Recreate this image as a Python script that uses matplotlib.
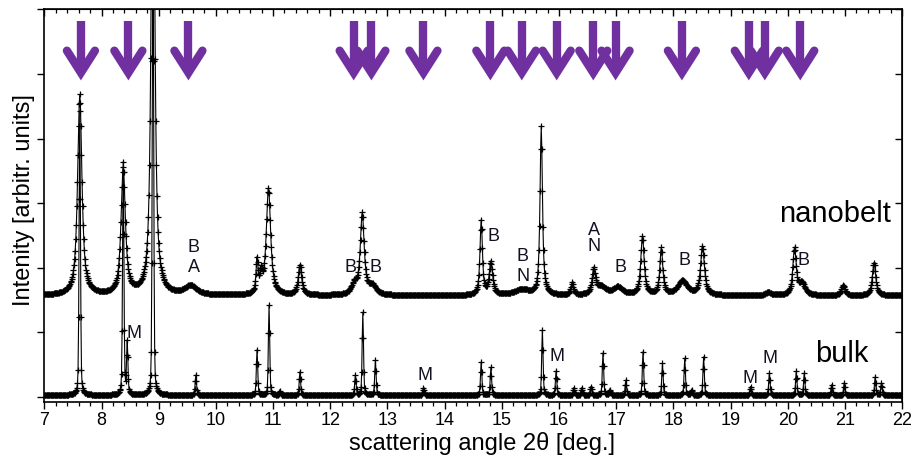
import numpy as np
import matplotlib
matplotlib.use("Agg")
import matplotlib.pyplot as plt
from matplotlib.ticker import MultipleLocator, NullFormatter

plt.rcParams['font.family'] = ['Liberation Sans', 'DejaVu Sans']

# scan grid (deg 2theta)
two_theta = np.round(np.arange(7.0, 22.0 + 1e-9, 0.01), 2)

# nanobelt pattern: vertical offset and fitted reflections
nanobelt_offset = 1.57
nanobelt_pos = [7.62, 8.38, 8.90, 9.56, 10.72, 10.79, 10.92, 11.47, 12.42, 12.56,
                12.74, 14.64, 14.81, 15.35, 15.69, 16.23, 16.61, 16.74, 17.03, 17.46,
                17.79, 18.16, 18.51, 19.66, 20.12, 20.25, 20.97, 21.51]
nanobelt_amp = [3.1, 1.95, 8.5, 0.14, 0.5, 0.28, 1.65, 0.46, 0.16, 1.25,
                0.13, 1.15, 0.5, 0.09, 2.6, 0.19, 0.38, 0.12, 0.12, 0.9,
                0.72, 0.22, 0.75, 0.05, 0.72, 0.18, 0.16, 0.5]
nanobelt_fwhm = [0.09, 0.09, 0.07, 0.25, 0.04, 0.05, 0.09, 0.07, 0.12, 0.08,
                 0.15, 0.05, 0.07, 0.30, 0.05, 0.05, 0.07, 0.20, 0.20, 0.07,
                 0.06, 0.20, 0.08, 0.10, 0.07, 0.12, 0.07, 0.07]

# bulk pattern
bulk_offset = 0.03
bulk_pos = [7.62, 8.38, 8.45, 8.90, 9.65, 10.72, 10.93, 11.12, 11.47, 12.44,
            12.57, 12.79, 13.63, 14.64, 14.81, 15.71, 15.95, 16.26, 16.40, 16.56,
            16.77, 16.89, 17.17, 17.47, 17.81, 18.20, 18.32, 18.53, 19.35, 19.68,
            20.15, 20.29, 20.77, 20.99, 21.53, 21.64]
bulk_amp = [4.4, 3.6, 0.8, 7.5, 0.31, 0.70, 1.39, 0.06, 0.36, 0.31,
            1.28, 0.54, 0.11, 0.51, 0.43, 1.01, 0.37, 0.11, 0.11, 0.13,
            0.65, 0.08, 0.23, 0.67, 0.49, 0.57, 0.08, 0.59, 0.13, 0.34,
            0.37, 0.34, 0.16, 0.19, 0.28, 0.19]
bulk_fwhm = 0.028

# reflections marked with arrows
arrow_pos = [7.64, 8.47, 9.52, 12.41, 12.72, 13.63, 14.80, 15.35, 15.96, 16.60,
             16.99, 18.15, 19.32, 19.60, 20.22]

# phase assignments
nano_labels = ["B", "A", "B", "B", "B", "B", "N", "A", "N", "B", "B", "B"]
nano_label_x = [9.61, 9.61, 12.35, 12.79, 14.85, 15.37, 15.37, 16.62, 16.62, 17.07, 18.19, 20.27]
nano_label_y = [2.31, 2.00, 2.00, 2.00, 2.48, 2.17, 1.86, 2.57, 2.33, 2.00, 2.12, 2.12]
bulk_labels = ["M", "M", "M", "M", "M"]
bulk_label_x = [8.56, 13.66, 15.97, 19.34, 19.69]
bulk_label_y = [0.99, 0.33, 0.62, 0.29, 0.60]


def pseudo_voigt(x, x0, amp, fwhm, eta):
    u = (x - x0) / (fwhm / 2.0)
    return amp * (eta / (1.0 + u ** 2) + (1.0 - eta) * np.exp(-np.log(2.0) * u ** 2))


nanobelt = np.full_like(two_theta, nanobelt_offset)
for p, a, w in zip(nanobelt_pos, nanobelt_amp, nanobelt_fwhm):
    nanobelt += pseudo_voigt(two_theta, p, a, w, 0.85)

bulk = np.full_like(two_theta, bulk_offset)
for p, a in zip(bulk_pos, bulk_amp):
    bulk += pseudo_voigt(two_theta, p, a, bulk_fwhm, 0.35)

fig = plt.figure(figsize=(9.12, 4.57), dpi=100)
ax = fig.add_axes([0.0486, 0.120, 0.9405, 0.8596])

style = dict(color="black", lw=0.8, marker="+", ms=4.5, mew=0.9)
ax.plot(two_theta, nanobelt, **style)
ax.plot(two_theta, bulk, **style)

ax.set_xlim(7, 22)
ax.set_ylim(-0.08, 6.0)

# purple arrows: flat-topped shaft plus an open chevron head
purple = "#7030A0"
shaft_top, head_tip, head_top, head_half = 5.82, 5.02, 5.36, 0.245
for x in arrow_pos:
    ax.plot([x, x], [shaft_top, head_tip + 0.05], color=purple, lw=6.0,
            solid_capstyle="butt", zorder=5)
    ax.plot([x - head_half, x, x + head_half], [head_top, head_tip, head_top],
            color=purple, lw=6.0, solid_capstyle="round", solid_joinstyle="miter", zorder=5)

for t, x, y in zip(nano_labels, nano_label_x, nano_label_y):
    ax.text(x, y, t, fontsize=13, ha="center", va="center", color="#111122")
for t, x, y in zip(bulk_labels, bulk_label_x, bulk_label_y):
    ax.text(x, y, t, fontsize=13, ha="center", va="center", color="#111122")

ax.text(20.83, 2.71, "nanobelt", fontsize=21, ha="center", va="baseline")
ax.text(20.95, 0.54, "bulk", fontsize=21, ha="center", va="baseline")

ax.set_xlabel("scattering angle 2\u03b8 [deg.]", fontsize=17)
ax.set_ylabel("Intenity [arbitr. units]", fontsize=17)
ax.xaxis.set_label_coords(0.51, -0.077)
ax.yaxis.set_label_coords(-0.011, 0.515)

ax.xaxis.set_major_locator(MultipleLocator(1))
ax.xaxis.set_minor_locator(MultipleLocator(0.2))
ax.yaxis.set_major_locator(MultipleLocator(1))
ax.yaxis.set_major_formatter(NullFormatter())
ax.tick_params(which="major", direction="out", length=5, width=1.0, labelsize=13, pad=2)
ax.tick_params(which="minor", direction="out", length=3, width=0.9)

top = ax.secondary_xaxis("top")
top.xaxis.set_major_locator(MultipleLocator(1))
top.xaxis.set_minor_locator(MultipleLocator(0.2))
top.tick_params(which="major", direction="in", length=5, width=1.0, labeltop=False)
top.tick_params(which="minor", direction="in", length=3, width=0.9)

right = ax.secondary_yaxis("right")
right.yaxis.set_major_locator(MultipleLocator(1))
right.tick_params(which="major", direction="in", length=5, width=1.0, labelright=False)

for s in ax.spines.values():
    s.set_linewidth(1.2)

fig.savefig("out.png", dpi=100)
